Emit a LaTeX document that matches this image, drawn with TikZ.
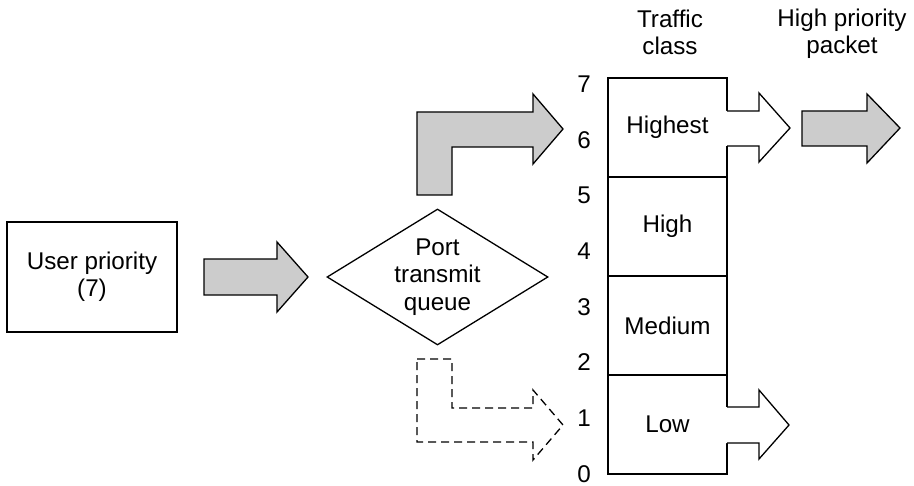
\documentclass[tikz,border=0pt]{standalone}
\usepackage{fontspec}
\setmainfont{Liberation Sans}
\usetikzlibrary{shapes.geometric}
\definecolor{arrowgray}{gray}{0.8}
\begin{document}
\begin{tikzpicture}[x=0.5pt,y=-0.5pt,line width=0.65pt,
  every node/.style={font=\fontsize{12.1}{13.6}\selectfont,align=center},
  box/.style={draw,rectangle,minimum width=85pt,minimum height=55pt,inner sep=0pt},
  queue/.style={draw,diamond,aspect=1.625,minimum width=110.5pt,minimum height=68pt,inner sep=0pt},
  cell/.style={draw,rectangle,minimum width=59.5pt,minimum height=49.5pt,inner sep=0pt},
  blockarrow/.style={draw,fill=arrowgray},
  openarrow/.style={draw,dash pattern=on 4pt off 2.5pt}]
\useasboundingbox (0,0) rectangle (914,486);

\node[box] (user) at (92,277) {User priority\\(7)};
\node[queue] (port) at (437.5,277) {Port\\transmit\\queue};

\node[cell] (highest) at (667.5,127.5) {Highest};
\node[cell] (high) at (667.5,226.5) {High};
\node[cell] (medium) at (667.5,325.5) {Medium};
\node[cell] (low) at (667.5,424.5) {Low};

\node (n7) at (584,84) {7};
\node (n6) at (584,140) {6};
\node (n5) at (584,195) {5};
\node (n4) at (584,251) {4};
\node (n3) at (584,307) {3};
\node (n2) at (584,362) {2};
\node (n1) at (584,418) {1};
\node (n0) at (584,474) {0};

\node (tc) at (670,32) {Traffic\\class};
\node (hp) at (842,34) {High priority\\packet};

\draw[blockarrow] (204,259) -- (277,259) -- (277,242) -- (308,277) -- (277,312)
  -- (277,295) -- (204,295) -- cycle;
\draw[blockarrow] (417,195) -- (417,112) -- (533,112) -- (533,94) -- (563,129)
  -- (533,164) -- (533,147) -- (452,147) -- (452,195) -- cycle;
\draw[openarrow] (417,359) -- (452,359) -- (452,408) -- (533,408) -- (533,390)
  -- (563,425) -- (533,460) -- (533,442) -- (417,442) -- cycle;
\draw[blockarrow] (802,111) -- (867,111) -- (867,94) -- (900,128) -- (867,163)
  -- (867,146) -- (802,146) -- cycle;

\fill[white] (726,111) -- (759,111) -- (759,93) -- (790,128) -- (759,162)
  -- (759,146) -- (726,146) -- cycle;
\draw (727,111) -- (759,111) -- (759,93) -- (790,128) -- (759,162)
  -- (759,146) -- (727,146);
\fill[white] (726,407) -- (759,407) -- (759,390) -- (789,425) -- (759,459)
  -- (759,443) -- (726,443) -- cycle;
\draw (727,407) -- (759,407) -- (759,390) -- (789,425) -- (759,459)
  -- (759,443) -- (727,443);
\end{tikzpicture}
\end{document}
